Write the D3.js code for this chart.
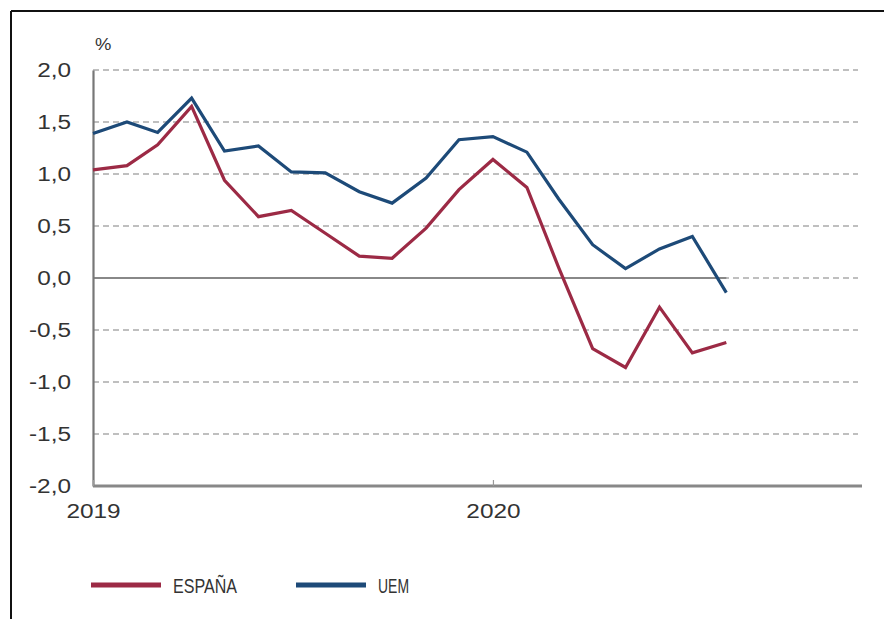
<!DOCTYPE html>
<html>
<head>
<meta charset="utf-8">
<script src="https://cdn.jsdelivr.net/npm/d3@7"></script>
<style>
  html, body { margin: 0; padding: 0; background: #fff; }
  svg { display: block; }
  text { font-family: "Liberation Sans", Arial, sans-serif; fill: #333; }
</style>
</head>
<body>
<svg id="chart" width="884" height="619"></svg>
<script>
// Monthly year-on-year rates, %
const months = ["2019-01","2019-02","2019-03","2019-04","2019-05","2019-06","2019-07","2019-08","2019-09","2019-10","2019-11","2019-12",
                "2020-01","2020-02","2020-03","2020-04","2020-05","2020-06","2020-07","2020-08"];
const espana = [1.04, 1.08, 1.28, 1.65, 0.94, 0.59, 0.65, 0.43, 0.21, 0.19, 0.48, 0.85,
                1.14, 0.87, 0.10, -0.68, -0.86, -0.28, -0.72, -0.62];
const uem    = [1.39, 1.50, 1.40, 1.73, 1.22, 1.27, 1.02, 1.01, 0.83, 0.72, 0.96, 1.33,
                1.36, 1.21, 0.76, 0.32, 0.09, 0.28, 0.40, -0.14];
const yTicks = [2.0, 1.5, 1.0, 0.5, 0.0, -0.5, -1.0, -1.5, -2.0];
const yearTicks = ["2019-01", "2020-01"];
const seriesNames = ["ESPAÑA", "UEM"];
const seriesColors = ["#9c2a45", "#1d4a78"];

const parse = d3.utcParse("%Y-%m");
const svg = d3.select("#chart");

const x = d3.scaleUtc()
  .domain([parse("2019-01"), parse("2020-12")])
  .range([93, 860]);
const y = d3.scaleLinear()
  .domain([-2, 2])
  .range([486, 70]);

const fmt = v => d3.format(".1f")(v).replace(".", ",").replace("−", "-");

// widen glyphs horizontally by a factor, keeping the anchor
function stretch(sel, k) {
  sel.each(function () {
    const w = this.getComputedTextLength();
    d3.select(this).attr("textLength", w * k).attr("lengthAdjust", "spacingAndGlyphs");
  });
}

// frame
svg.append("line").attr("x1", 11).attr("x2", 884).attr("y1", 11).attr("y2", 11)
  .attr("stroke", "#111").attr("stroke-width", 2);
svg.append("line").attr("x1", 11).attr("x2", 11).attr("y1", 11).attr("y2", 619)
  .attr("stroke", "#111").attr("stroke-width", 2);

// gridlines
const lastX = x(parse(months[months.length - 1]));
svg.append("g").selectAll("line")
  .data(yTicks.filter(v => v !== -2))
  .join("line")
  .attr("x1", 93).attr("x2", 858)
  .attr("y1", d => y(d)).attr("y2", d => y(d))
  .attr("stroke", "#aaa").attr("stroke-width", 1.3)
  .attr("stroke-dasharray", "6,4");
// solid zero line under the data span
svg.append("line")
  .attr("x1", 93).attr("x2", lastX)
  .attr("y1", y(0)).attr("y2", y(0))
  .attr("stroke", "#888").attr("stroke-width", 2);

// axes
const yAxis = svg.append("g").attr("transform", "translate(93,0)")
  .call(d3.axisLeft(y).tickValues(yTicks).tickSize(0).tickPadding(22).tickFormat(fmt));
yAxis.select(".domain").attr("stroke", "#777").attr("stroke-width", 2.2);
yAxis.selectAll("text").attr("font-size", 19.5).attr("fill", "#333")
  .attr("font-family", "Liberation Sans, Arial, sans-serif")
  .call(stretch, 1.25);

const xAxis = svg.append("g").attr("transform", `translate(0,${y(-2)})`)
  .call(d3.axisBottom(x).tickValues(yearTicks.map(parse)).tickSize(-6).tickPadding(14)
        .tickFormat(d3.utcFormat("%Y")));
xAxis.select(".domain").attr("stroke", "#888").attr("stroke-width", 3)
  .attr("d", `M93,0H862`);
xAxis.selectAll(".tick line").attr("stroke", "#999").attr("stroke-width", 1.2);
xAxis.selectAll("text").attr("font-size", 19.5).attr("fill", "#333")
  .attr("font-family", "Liberation Sans, Arial, sans-serif")
  .attr("dy", "0.9em")
  .call(stretch, 1.25);

// unit label
svg.append("text").attr("x", 95).attr("y", 50).attr("font-size", 16).text("%")
  .call(stretch, 1.15);

// lines
const line = d3.line()
  .x((d, i) => x(parse(months[i])))
  .y(d => y(d));
[espana, uem].forEach((vals, i) => {
  svg.append("path")
    .datum(vals)
    .attr("d", line)
    .attr("fill", "none")
    .attr("stroke", seriesColors[i])
    .attr("stroke-width", 3.2)
    .attr("stroke-linejoin", "miter");
});

// legend
const legendX = [91, 296];
const legend = svg.append("g");
seriesNames.forEach((name, i) => {
  legend.append("line")
    .attr("x1", legendX[i]).attr("x2", legendX[i] + 70)
    .attr("y1", 585).attr("y2", 585)
    .attr("stroke", seriesColors[i]).attr("stroke-width", 5);
  legend.append("text")
    .attr("x", legendX[i] + 82).attr("y", 593)
    .attr("font-size", 21)
    .attr("font-family", "Liberation Sans Narrow, Liberation Sans, Arial, sans-serif")
    .attr("fill", "#222")
    .text(name);
});
legend.selectAll("text").each(function (d, i) {
  const target = [64, 31][i];
  d3.select(this).attr("textLength", target).attr("lengthAdjust", "spacingAndGlyphs");
});
</script>
</body>
</html>
